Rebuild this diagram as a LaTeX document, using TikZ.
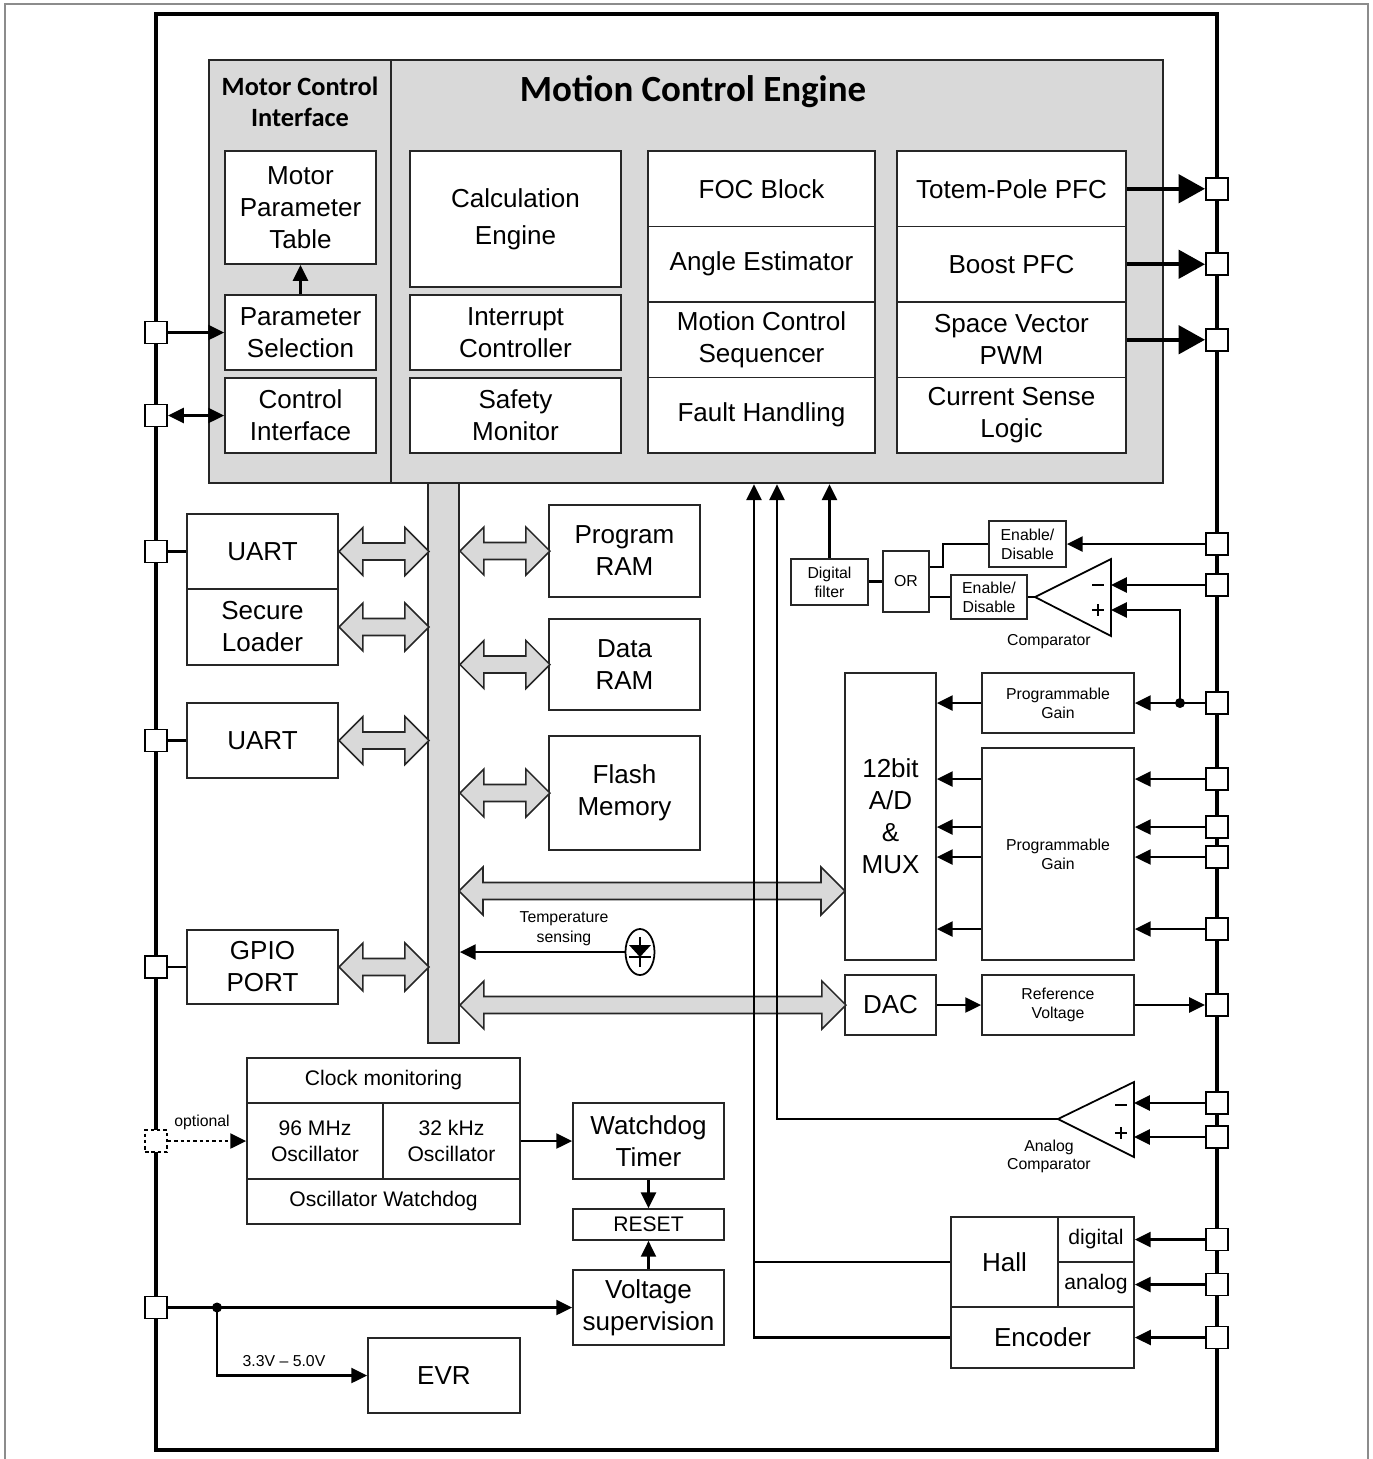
\documentclass[tikz,border=0pt]{standalone}
\usepackage{fontspec}
\setmainfont{Liberation Sans}
\newfontfamily\calibri{Carlito}
\usetikzlibrary{arrows.meta,shapes.geometric}

\newcommand{\bigtxt}{\fontsize{7.4}{9.1}\selectfont}
\newcommand{\midtxt}{\fontsize{6}{7.4}\selectfont}
\newcommand{\smalltxt}{\fontsize{4.5}{5.4}\selectfont}

\tikzset{
  blk/.style={draw=black!85, fill=white, line width=0.5pt, inner sep=0pt, align=center, font=\bigtxt},
  boxsize/.style 2 args={minimum width=#1, minimum height=#2},
  panel/.style={draw=black!85, fill=black!15, line width=0.6pt, inner sep=0pt},
  pad/.style={draw=black, fill=white, line width=0.55pt, minimum size=0.22cm, inner sep=0pt},
  wire/.style={line width=0.6pt},
  sig/.style={line width=0.6pt, -{Triangle[length=4.5pt,width=4.3pt]}},
  dsig/.style={line width=0.6pt, {Triangle[length=4.5pt,width=4.3pt]}-{Triangle[length=4.5pt,width=4.3pt]}},
  bigsig/.style={line width=1.2pt, -{Triangle[length=7.5pt,width=8pt]}},
  fat/.style={draw=black!85, fill=black!15, line width=0.45pt},
  shortdash/.style={dash pattern=on 1pt off 0.8pt},
}

\begin{document}
\begin{tikzpicture}[x=0.01cm, y=-0.01cm]
\useasboundingbox (0,0) rectangle (1373,1459);

%page border and chip outline
\draw[black!45, line width=0.4pt] (5,1459) -- (5,4) -- (1368,4) -- (1368,1459);
\draw[line width=1.3pt] (156,14) rectangle (1217,1450);

%motor control interface / motion control engine
\node[panel, boxsize={1.82cm}{4.23cm}] (mci) at (300,271.5) {};
\node[panel, boxsize={7.72cm}{4.23cm}] (mce) at (777,271.5) {};
\node[font=\calibri\bfseries\fontsize{7.5}{8.8}\selectfont, align=center] (mcititle) at (300,102) {Motor Control\\Interface};
\node[font=\calibri\bfseries\fontsize{10.5}{12}\selectfont] (mcetitle) at (693,92) {Motion Control Engine};

\node[blk, boxsize={1.51cm}{1.13cm}] (mpt) at (300.5,207.5) {Motor\\Parameter\\Table};
\node[blk, boxsize={1.51cm}{0.75cm}] (psel) at (300.5,332.5) {Parameter\\Selection};
\node[blk, boxsize={1.51cm}{0.75cm}] (ctrl) at (300.5,415.5) {Control\\Interface};
\draw[sig] (psel) -- (mpt);

\node[blk, boxsize={2.11cm}{1.36cm}, font=\fontsize{7.4}{10.5}\selectfont] (calc) at (515.5,219) {Calculation\\Engine};
\node[blk, boxsize={2.11cm}{0.75cm}] (intc) at (515.5,332.5) {Interrupt\\Controller};
\node[blk, boxsize={2.11cm}{0.75cm}] (safe) at (515.5,415.5) {Safety\\Monitor};

\node[blk, boxsize={2.27cm}{0.755cm}] (foc) at (761.5,188.75) {FOC Block};
\node[blk, boxsize={2.27cm}{0.755cm}] (angle) at (761.5,264.25) {Angle Estimator};
\node[blk, boxsize={2.27cm}{0.755cm}] (seq) at (761.5,339.75) {Motion Control\\Sequencer};
\node[blk, boxsize={2.27cm}{0.755cm}] (fault) at (761.5,415.25) {Fault Handling};

\node[blk, boxsize={2.29cm}{0.755cm}] (totem) at (1011.5,188.75) {Totem-Pole PFC};
\node[blk, boxsize={2.29cm}{0.755cm}] (boost) at (1011.5,264.25) {Boost PFC};
\node[blk, boxsize={2.29cm}{0.755cm}] (svpwm) at (1011.5,339.75) {Space Vector\\PWM};
\node[blk, boxsize={2.29cm}{0.755cm}] (csense) at (1011.5,415.25) {Current Sense\\Logic};

%system bus and peripherals
\node[panel, line width=0.5pt, boxsize={0.31cm}{5.6cm}] (bus) at (443.5,763) {};

\node[blk, boxsize={1.51cm}{0.75cm}] (uart1) at (262.5,551.5) {UART};
\node[blk, boxsize={1.51cm}{0.76cm}] (sload) at (262.5,627) {Secure\\Loader};
\node[blk, boxsize={1.51cm}{0.75cm}] (uart2) at (262.5,740.5) {UART};
\node[blk, boxsize={1.51cm}{0.74cm}] (gpio) at (262.5,967) {GPIO\\PORT};

\node[blk, boxsize={1.51cm}{0.92cm}] (pram) at (624.5,551) {Program\\RAM};
\node[blk, boxsize={1.51cm}{0.91cm}] (dram) at (624.5,664.5) {Data\\RAM};
\node[blk, boxsize={1.51cm}{1.14cm}] (flash) at (624.5,793) {Flash\\Memory};

\foreach \b in {uart1,sload,uart2,gpio}
  \draw[fat] (\b.east) -- ++(24,-24) -- ++(0,15.5) -- ++(42,0) -- ++(0,-15.5) -- ++(24,24) -- ++(-24,24) -- ++(0,-15.5) -- ++(-42,0) -- ++(0,15.5) -- cycle;
\foreach \b in {pram,dram,flash}
  \draw[fat] (bus.east |- \b) -- ++(24,-24) -- ++(0,15.5) -- ++(42,0) -- ++(0,-15.5) -- ++(24,24) -- ++(-24,24) -- ++(0,-15.5) -- ++(-42,0) -- ++(0,15.5) -- cycle;

%analog part
\node[blk, boxsize={0.91cm}{2.87cm}] (adc) at (890.5,816.5) {12bit\\A/D\\\&\\MUX};
\node[blk, boxsize={0.91cm}{0.60cm}] (dac) at (890.5,1005) {DAC};
\node[blk, boxsize={1.52cm}{0.60cm}, font=\smalltxt] (pga1) at (1058,703) {Programmable\\Gain};
\node[blk, boxsize={1.52cm}{2.12cm}, font=\smalltxt] (pga2) at (1058,854) {Programmable\\Gain};
\node[blk, boxsize={1.52cm}{0.60cm}, font=\smalltxt] (vref) at (1058,1005) {Reference\\Voltage};

\coordinate (adcport) at (459,891);
\draw[fat] (adcport) -- ++(24,-24) -- ++(0,15.5) -- ++(338,0) -- ++(0,-15.5) -- ++(24,24) -- ++(-24,24) -- ++(0,-15.5) -- ++(-338,0) -- ++(0,15.5) -- cycle;
\draw[fat] (bus.east |- dac) -- ++(24,-24) -- ++(0,15.5) -- ++(338,0) -- ++(0,-15.5) -- ++(24,24) -- ++(-24,24) -- ++(0,-15.5) -- ++(-338,0) -- ++(0,15.5) -- cycle;

%temperature sensor
\node[draw, ellipse, line width=0.5pt, minimum width=0.29cm, minimum height=0.46cm, inner sep=0pt] (diode) at (640,952) {};
\fill (629,945) -- (651,945) -- (640,957) -- cycle;
\draw[line width=0.5pt] (629,957) -- (651,957);
\draw[line width=0.5pt] (640,937) -- (640,967);
\draw[sig] (diode) -- (bus.east |- diode);
\node[font=\fontsize{4.5}{5.7}\selectfont, align=center] (tlabel) at (564,929) {Temperature\\sensing};

%comparator with enable logic
\node[blk, boxsize={0.77cm}{0.46cm}, font=\smalltxt] (en1) at (1027.5,544) {Enable/\\Disable};
\node[blk, boxsize={0.76cm}{0.44cm}, font=\smalltxt] (en2) at (989,597) {Enable/\\Disable};
\node[blk, boxsize={0.46cm}{0.61cm}, font=\smalltxt] (orgate) at (906,581.5) {OR};
\node[blk, boxsize={0.77cm}{0.46cm}, font=\smalltxt] (dfilt) at (829.5,582) {Digital\\filter};
\coordinate (c1tip) at (1035,597);
\coordinate (c1n) at (1111,585);
\coordinate (c1p) at (1111,610);
\draw[line width=0.5pt] (c1tip) -- (1111,559) -- (1111,636) -- cycle;
\draw[line width=0.4pt] (1092,585) -- (1104,585);
\draw[line width=0.4pt] (1092,610) -- (1104,610) (1098,604) -- (1098,616);
\node[font=\smalltxt] (c1label) at (1049,642) {Comparator};
\draw[wire] (c1tip) -- (en2);
\draw[wire] (en1.west) -- ++(-45,0) |- (orgate.east |- 0,567);
\draw[wire] (en2.west) -- (orgate.east |- en2.west);
\draw[wire] (orgate.west) -- (dfilt.east |- orgate.west);
\draw[sig] (dfilt) -- (dfilt |- mce.south);

%analog comparator
\coordinate (c2tip) at (1058,1119);
\coordinate (c2n) at (1134,1103);
\coordinate (c2p) at (1134,1137);
\draw[line width=0.5pt] (c2tip) -- (1134,1082) -- (1134,1157) -- cycle;
\draw[line width=0.4pt] (1115,1105) -- (1127,1105);
\draw[line width=0.4pt] (1115,1133) -- (1127,1133) (1121,1127) -- (1121,1139);
\node[font=\fontsize{4.5}{5.1}\selectfont, align=center] (c2label) at (1049,1156) {Analog\\Comparator};

%hall and encoder
\node[blk, boxsize={1.07cm}{0.90cm}] (hall) at (1004.5,1262) {Hall};
\node[blk, boxsize={0.76cm}{0.45cm}, font=\midtxt] (hdig) at (1096,1239.5) {digital};
\node[blk, boxsize={0.76cm}{0.45cm}, font=\midtxt] (hana) at (1096,1284.5) {analog};
\node[blk, boxsize={1.83cm}{0.61cm}] (enc) at (1042.5,1337.5) {Encoder};

%clock and reset
\node[blk, boxsize={2.73cm}{0.45cm}, font=\midtxt] (clkmon) at (383.5,1080.5) {Clock monitoring};
\node[blk, boxsize={1.36cm}{0.76cm}, font=\midtxt] (osc96) at (315,1141) {96 MHz\\Oscillator};
\node[blk, boxsize={1.37cm}{0.76cm}, font=\midtxt] (osc32) at (451.5,1141) {32 kHz\\Oscillator};
\node[blk, boxsize={2.73cm}{0.45cm}, font=\midtxt] (oscwd) at (383.5,1201.5) {Oscillator Watchdog};
\node[blk, boxsize={1.51cm}{0.76cm}] (wdt) at (648.5,1141) {Watchdog\\Timer};
\node[blk, boxsize={1.51cm}{0.31cm}, font=\midtxt] (reset) at (648.5,1224.5) {RESET};
\node[blk, boxsize={1.51cm}{0.75cm}] (vsup) at (648.5,1307.5) {Voltage\\supervision};
\node[blk, boxsize={1.52cm}{0.75cm}] (evr) at (444,1375.5) {EVR};
\draw[sig] (osc32) -- (wdt);
\draw[sig] (wdt) -- (reset);
\draw[sig] (vsup) -- (reset);
\node[font=\smalltxt] (optlabel) at (202,1122) {optional};
\node[font=\smalltxt] (vlabel) at (284,1361) {3.3V -- 5.0V};

%lines into the engine
\coordinate (encbus) at (754,1337.5);
\coordinate (acbus) at (777,1119);
\draw[wire] (hall.west) -- (hall.west -| encbus);
\draw[sig] (enc) -- (encbus) -- (encbus |- mce.south);
\draw[sig] (c2tip) -- (acbus) -- (acbus |- mce.south);

%pads
\foreach \n/\y in {sel/332.5, ctl/415.5, u1/551.5, u2/740.5, gp/967, pwr/1307.5}
  \node[pad] (p-\n) at (156,\y) {};
\node[pad, shortdash] (p-opt) at (156,1141) {};
\foreach \n/\y in {pwm1/188.75, pwm2/264.25, pwm3/339.75, en/544, cmpn/585, pga/703, ain1/779, ain2/827, ain3/857, ain4/929, ref/1005, acn/1103, acp/1137, hdig/1239.5, hana/1284.5, enc/1337.5}
  \node[pad] (p-\n) at (1217,\y) {};

%left side connections
\draw[sig] (p-sel) -- (psel);
\draw[dsig] (p-ctl) -- (ctrl);
\draw[wire] (p-u1) -- (uart1);
\draw[wire] (p-u2) -- (uart2);
\draw[wire] (p-gp) -- (gpio);
\draw[sig, shortdash] (p-opt) -- (osc96);
\coordinate (jpwr) at (217,1307.5);
\draw[sig] (p-pwr) -- (vsup);
\fill (jpwr) circle (0.05cm);
\draw[sig] (jpwr) |- (evr);

%right side connections
\draw[bigsig] (totem) -- (p-pwm1);
\draw[bigsig] (boost) -- (p-pwm2);
\draw[bigsig] (svpwm) -- (p-pwm3);
\draw[sig] (p-en) -- (en1);
\draw[sig] (p-cmpn) -- (c1n);
\coordinate (jpga) at (1180,703);
\draw[sig] (p-pga) -- (pga1);
\fill (jpga) circle (0.05cm);
\draw[sig] (jpga) |- (c1p);
\draw[sig] (pga1) -- (adc.east |- pga1);
\foreach \n in {ain1,ain2,ain3,ain4} {
  \draw[sig] (p-\n) -- (pga2.east |- p-\n);
  \draw[sig] (pga2.west |- p-\n) -- (adc.east |- p-\n);
}
\draw[sig] (dac) -- (vref);
\draw[sig] (vref) -- (p-ref);
\draw[sig] (p-acn) -- (c2n);
\draw[sig] (p-acp) -- (c2p);
\draw[sig] (p-hdig) -- (hdig);
\draw[sig] (p-hana) -- (hana);
\draw[sig] (p-enc) -- (enc);

\end{tikzpicture}
\end{document}
